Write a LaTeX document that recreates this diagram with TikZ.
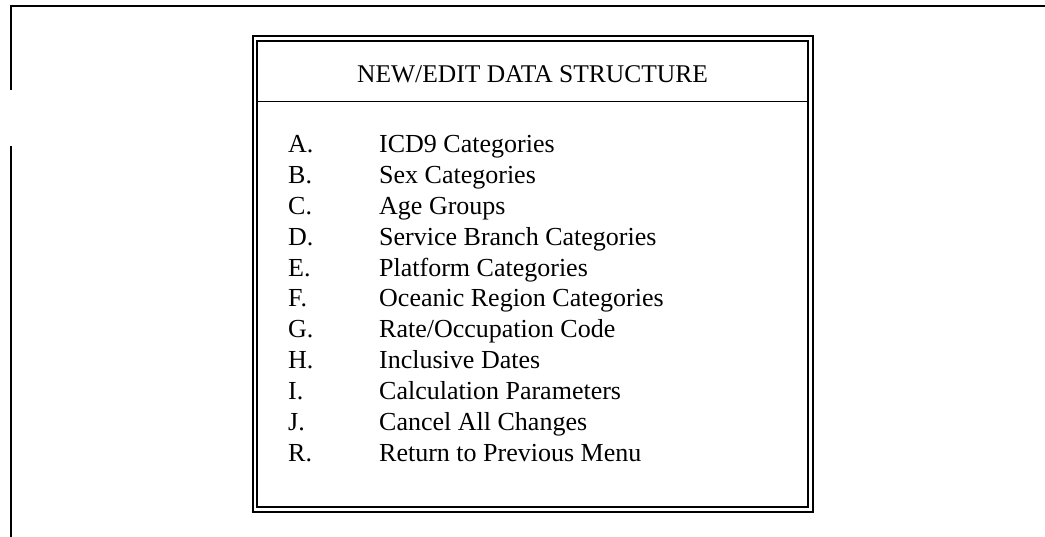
\documentclass[tikz,border=0pt]{standalone}
\usepackage{fontspec}
\setmainfont{Liberation Serif}
\usetikzlibrary{positioning}

\begin{document}
\begin{tikzpicture}[x=1pt,y=-1pt,
    menukey/.style={anchor=base west,inner sep=0pt,font=\fontsize{26}{31}\selectfont},
    menutext/.style={anchor=base west,inner sep=0pt,font=\fontsize{26}{31}\selectfont},
    menutitle/.style={anchor=base,inner sep=0pt,font=\fontsize{25.5}{31}\selectfont}]
              \useasboundingbox (0,0) rectangle (1045,537);
              \draw[line width=1.5pt] (11,90) -- (11,6) -- (1045,6);
              \draw[line width=1.5pt] (11,146) -- (11,537);
              \draw[line width=1.8pt] (253,36) rectangle (813,512);
              \draw[line width=1.3pt] (257,41) rectangle (808,507);
              \draw[line width=1.3pt] (257,101.5) -- (808,101.5);
              \node[menutitle] (title) at (532.5,83) {NEW/EDIT DATA STRUCTURE};
              \foreach \k/\t [count=\i] in {A/ICD9 Categories,B/Sex Categories,C/Age Groups,
                  D/Service Branch Categories,E/Platform Categories,F/Oceanic Region Categories,
                  G/Rate\slash Occupation Code,H/Inclusive Dates,I/Calculation Parameters,
                  J/Cancel All Changes,R/Return to Previous Menu}{
                \node[menukey] (key\i) at (288,{153+30.8*(\i-1)}) {\k.};
                \node[menutext] (item\i) at (379,{153+30.8*(\i-1)}) {\t};
              }
            \end{tikzpicture}
\end{document}
